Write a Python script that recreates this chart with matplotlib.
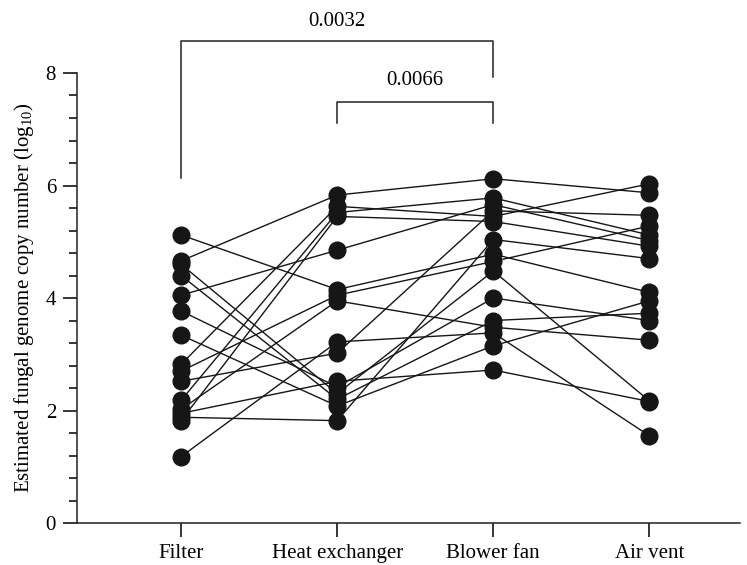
import matplotlib
matplotlib.use("Agg")
from matplotlib import pyplot as plt
from matplotlib.ticker import MultipleLocator

plt.rcParams['font.family'] = ['Liberation Serif', 'DejaVu Serif']
plt.rcParams['mathtext.fontset'] = 'custom'
plt.rcParams['mathtext.rm'] = 'Liberation Serif'

sites = ["Filter", "Heat exchanger", "Blower fan", "Air vent"]

# one entry per sample, same order in every list
filter_vals = [5.12, 4.66, 4.60, 4.40, 4.05, 3.77, 3.34, 2.82, 2.70, 2.52, 2.18, 2.02, 1.95, 1.88, 1.82, 1.18]
heat_vals   = [4.15, 5.83, 2.30, 2.20, 4.85, 2.42, 2.08, 5.63, 4.05, 3.02, 5.52, 3.95, 2.52, 1.82, 5.45, 3.22]
blower_vals = [4.78, 6.12, 4.48, 3.60, 5.66, 4.00, 3.15, 5.45, 4.65, 5.55, 5.78, 3.48, 2.72, 5.04, 5.36, 3.38]
vent_vals   = [4.10, 5.87, 2.17, 3.73, 5.02, 3.60, 3.95, 6.03, 5.28, 5.47, 5.12, 3.25, 2.16, 4.70, 4.92, 1.55]

# p-value brackets: (left site, right site, p)
pvals = [(0, 2, "0.0032"), (1, 2, "0.0066")]

ink = '#161616'
fs = 15

fig = plt.figure(figsize=(7.47, 5.65), dpi=100)
ax = fig.add_axes([0.103, 0.0743, 0.8876, 0.7965])

for sample in zip(filter_vals, heat_vals, blower_vals, vent_vals):
    ax.plot(range(len(sites)), sample, color=ink, lw=1.0, marker='o', ms=12,
            mfc=ink, mec=ink, zorder=2)

ax.set_xlim(-0.667, 3.58)
ax.set_ylim(0, 8)
ax.set_xticks(range(len(sites)))
ax.set_xticklabels(sites, fontsize=fs)
ax.yaxis.set_major_locator(MultipleLocator(2))
ax.yaxis.set_minor_locator(MultipleLocator(0.4))
ax.tick_params(axis='y', which='major', length=10, width=1.1, labelsize=fs, pad=5)
ax.tick_params(axis='y', which='minor', length=6, width=1.1)
ax.tick_params(axis='x', length=10, width=1.1, pad=5)
ax.set_ylabel(r"Estimated fungal genome copy number (log$_{\mathrm{10}}$)", fontsize=fs, labelpad=7)

for s in ['top', 'right']:
    ax.spines[s].set_visible(False)
for s in ['left', 'bottom']:
    ax.spines[s].set_linewidth(1.1)
    ax.spines[s].set_color('#222222')

# brackets
ax.plot([pvals[0][0]] * 2 + [pvals[0][1]] * 2, [6.13, 8.57, 8.57, 7.93], color='#222222', lw=1.1, clip_on=False)
ax.text(1, 8.91, pvals[0][2], ha='center', va='center', fontsize=fs)
ax.plot([pvals[1][0]] * 2 + [pvals[1][1]] * 2, [7.11, 7.48, 7.48, 7.11], color='#222222', lw=1.1, clip_on=False)
ax.text(1.5, 7.86, pvals[1][2], ha='center', va='center', fontsize=fs)

fig.savefig("out.png", dpi=100)
